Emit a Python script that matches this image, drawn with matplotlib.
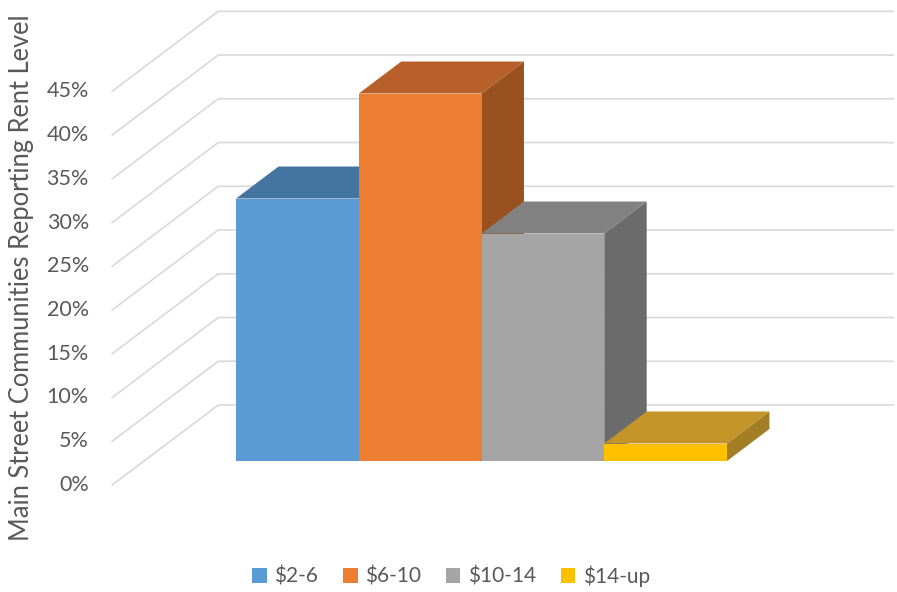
import matplotlib.pyplot as plt
from matplotlib.patches import Polygon

# share of main street communities in each rent band (percent)
categories = ["\\$2-6", "\\$6-10", "\\$10-14", "\\$14-up"]
shares = [30, 42, 26, 2]
ticks = [0, 5, 10, 15, 20, 25, 30, 35, 40, 45]

front_colors = ["#5B9BD5", "#ED7D31", "#A5A5A5", "#FFC000"]
top_colors = ["#4474A0", "#B8602A", "#818181", "#C39428"]
side_colors = ["#3B6590", "#9A5120", "#6B6B6B", "#A47E24"]

# oblique projection: one unit of depth moves right and up
DEPTH_X = 0.864
DEPTH_Y = 9.14
BAR_Z = (0.3, 0.7)
FLOOR = (-1.25, 4.25)

TEXT = "#595959"
GRID = "#D9D9D9"
plt.rcParams['font.family'] = ['Lato', 'DejaVu Sans']


def project(x, y, z):
    """returns the 2d position of a point (x, value, depth)"""
    return x + z * DEPTH_X, y + z * DEPTH_Y


def draw_walls(ax):
    """gridlines on the side wall and the back wall"""
    for t in ticks:
        x0, y0 = project(FLOOR[0], t, 0)
        x1, y1 = project(FLOOR[0], t, 1)
        x2, y2 = project(FLOOR[1], t, 1)
        ax.plot([x0, x1, x2], [y0, y1, y2], color=GRID, lw=1.2,
                solid_joinstyle='miter', zorder=1)
        ax.text(x0 - 0.19, t, f"{t}%", ha='right', va='center',
                fontsize=15.5, color=TEXT)


def draw_bars(ax):
    """3d columns, drawn left to right so each front hides the previous side"""
    z0, z1 = BAR_Z
    for i, v in enumerate(shares):
        left, right = i - 0.5, i + 0.5
        side = [project(right, 0, z0), project(right, 0, z1),
                project(right, v, z1), project(right, v, z0)]
        top = [project(left, v, z0), project(right, v, z0),
               project(right, v, z1), project(left, v, z1)]
        ax.add_patch(Polygon(side, closed=True, color=side_colors[i],
                             lw=0, zorder=2 + i))
        ax.add_patch(Polygon(top, closed=True, color=top_colors[i],
                             lw=0, zorder=2 + i))
        fx, fy = project(i, 0, z0)
        ax.bar(fx, v, width=1.0, bottom=fy, color=front_colors[i],
               label=categories[i], lw=0, zorder=2.5 + i)


fig = plt.figure(figsize=(8.97, 5.92), dpi=100)
ax = fig.add_axes([0, 0, 1, 1])
ax.set_xlim(-2.164, 5.144)
ax.set_ylim(-12.23, 55.43)
ax.axis('off')

draw_walls(ax)
draw_bars(ax)

ax.text(-1.989, 23.7, "Main Street Communities Reporting Rent Level",
        rotation=90, ha='center', va='center', fontsize=18.4, color=TEXT)

leg = fig.legend(loc='center', bbox_to_anchor=(451 / 897, 1 - 576 / 592),
                 ncol=4, frameon=False, fontsize=15, handlelength=0.7,
                 handleheight=0.7, handletextpad=0.35, columnspacing=1.2)
for txt in leg.get_texts():
    txt.set_color(TEXT)

fig.savefig("out.png", dpi=100)
